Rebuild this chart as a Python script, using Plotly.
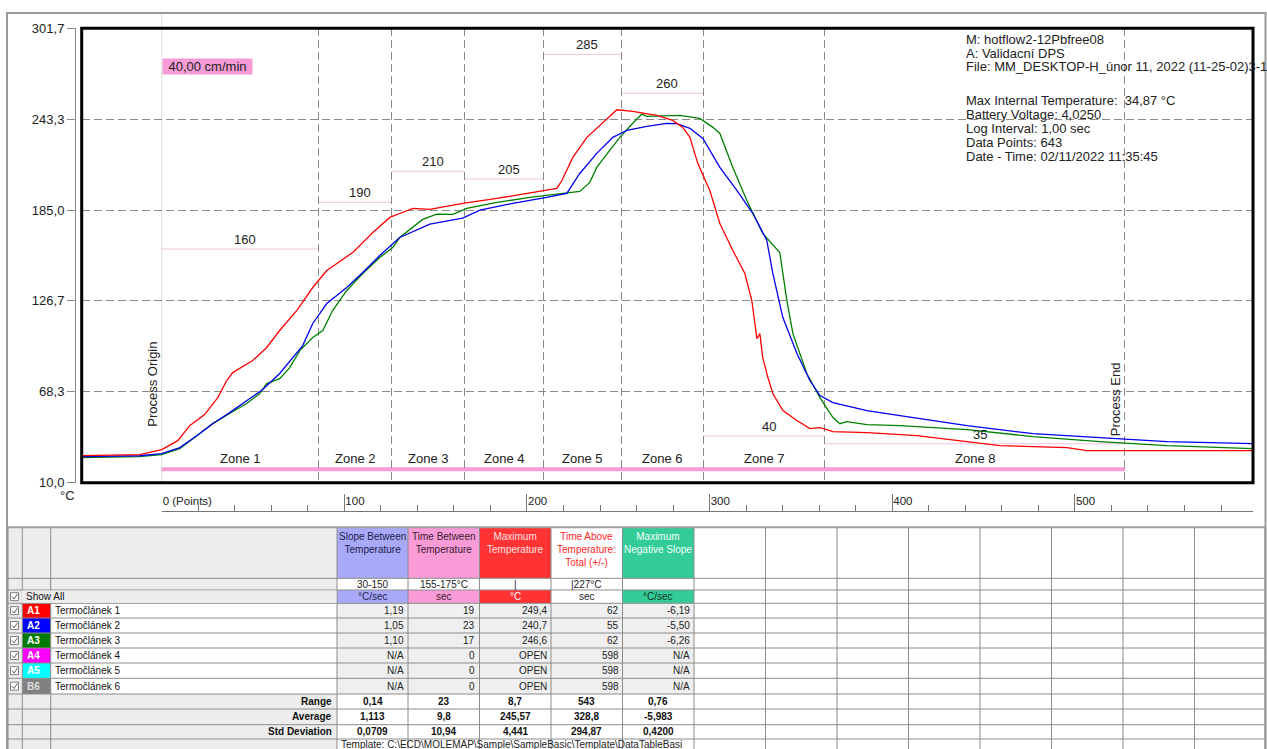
import plotly.graph_objects as go

W, H = 1267, 749
FONT = "Liberation Sans, Arial, sans-serif"

# ---------------- chart data (points vs °C) ----------------
red_points = [-43.8, -12.0, 0.0, 8.8, 15.3, 23.5, 30.7, 35.6, 38.9, 49.8, 57.5, 64.6, 73.9, 82.7,
              90.4, 104.6, 115.6, 124.9, 130.3, 137.5, 146.8, 164.8, 183.5, 207.0, 216.3, 219.1,
              225.1, 232.8, 241.5, 249.2, 257.9, 271.1, 279.8, 285.3, 289.2, 293.5, 300.1, 305.6,
              312.7, 319.3, 323.1, 325.9, 327.5, 329.1, 331.9, 334.6, 340.1, 347.8, 354.9, 360.4,
              367.5, 386.1, 413.5, 431.5, 458.9, 495.6, 506.6, 531.8, 597.5]
red_temp = [27.4, 28.0, 31.2, 37.0, 46.6, 53.7, 64.6, 75.6, 80.7, 88.4, 96.8, 107.7, 120.5, 135.3,
            146.2, 157.8, 170.6, 180.3, 182.8, 186.1, 185.4, 189.3, 192.5, 197.0, 198.9, 204.0,
            218.8, 231.7, 241.3, 249.4, 248.4, 245.8, 242.6, 238.1, 231.7, 215.0, 197.6, 176.4,
            159.1, 144.3, 126.9, 102.5, 105.7, 90.3, 77.5, 67.2, 56.3, 49.9, 44.7, 45.4,
            42.8, 42.1, 40.2, 37.6, 33.8, 32.5, 30.6, 30.6, 30.6]

blue_points = [-43.8, -12.0, 0.0, 9.9, 19.2, 27.9, 37.2, 46.5, 55.3, 64.6, 71.7, 77.2, 82.7, 90.4,
               101.3, 110.1, 119.4, 130.3, 146.8, 164.8, 174.2, 192.2, 210.8, 221.8, 228.9, 238.2,
               247.0, 254.7, 265.6, 276.6, 282.0, 289.2, 296.3, 305.6, 314.9, 323.7, 331.3, 334.6,
               340.1, 347.8, 354.9, 360.4, 367.5, 386.1, 404.2, 440.9, 477.0, 513.7, 550.4, 597.5]
blue_temp = [26.7, 27.3, 28.7, 32.5, 40.2, 47.9, 55.0, 62.7, 69.8, 80.1, 90.3, 98.0, 112.2, 125.0,
             135.3, 144.9, 155.9, 167.4, 176.0, 179.8, 185.0, 189.3, 193.1, 195.7, 208.5, 221.4,
             231.7, 236.2, 238.7, 240.7, 240.5, 237.5, 231.0, 212.4, 197.6, 182.8, 165.5, 144.3,
             116.0, 92.9, 75.6, 65.9, 61.4, 56.3, 53.1, 46.6, 41.5, 38.9, 36.4, 35.1]

green_points = [-43.8, -12.0, 0.0, 9.9, 19.2, 27.9, 37.2, 46.5, 53.7, 57.5, 64.6, 70.1, 75.6, 82.7,
                88.2, 93.6, 101.3, 110.1, 119.4, 126.5, 130.3, 142.9, 150.6, 159.4, 167.0, 183.5,
                201.5, 228.9, 234.4, 238.2, 245.3, 250.8, 257.9, 262.9, 265.6, 283.7, 294.6, 301.8,
                305.6, 312.7, 320.4, 329.1, 338.4, 342.3, 345.6, 353.2, 360.4, 367.5, 371.3, 375.1,
                386.1, 404.2, 440.9, 477.0, 513.7, 550.4, 597.5]
green_temp = [26.1, 26.7, 28.0, 31.9, 40.2, 47.9, 54.4, 60.8, 67.2, 73.6, 76.8, 83.9, 94.8, 103.2,
              107.7, 120.5, 133.4, 144.3, 154.6, 161.0, 167.4, 179.0, 182.4, 182.2, 186.1, 189.9,
              193.1, 197.0, 202.8, 212.4, 223.3, 231.7, 240.7, 246.6, 245.2, 245.8, 243.9, 238.1,
              234.2, 212.4, 191.2, 170.0, 157.8, 126.9, 105.7, 80.1, 64.6, 51.8, 47.9, 49.2,
              47.3, 46.6, 44.1, 39.6, 36.4, 33.8, 31.9]

y_tick_vals = [10.0, 68.3, 126.7, 185.0, 243.3, 301.7]
y_tick_text = ["10,0", "68,3", "126,7", "185,0", "243,3", "301,7"]
x_tick_vals = [0, 100, 200, 300, 400, 500]
x_tick_text = ["0 (Points)", "100", "200", "300", "400", "500"]

zone_edges = [0, 85.8, 125.8, 165.9, 208.8, 251.8, 296.4, 362.7, 527.4]
zone_names = ["Zone 1", "Zone 2", "Zone 3", "Zone 4", "Zone 5", "Zone 6", "Zone 7", "Zone 8"]
zone_setpoints = [160, 190, 210, 205, 285, 260, 40, 35]
conveyor_speed = "40,00 cm/min"

info_lines = ["M: hotflow2-12Pbfree08", "A: Validacní DPS",
              "File: MM_DESKTOP-H_únor 11, 2022 (11-25-02)3-1",
              "Max Internal Temperature:  34,87 °C", "Battery Voltage: 4,0250",
              "Log Interval: 1,00 sec", "Data Points: 643", "Date - Time: 02/11/2022 11:35:45"]

# ---------------- table data ----------------
stat_headers = ["Slope Between<br>Temperature", "Time Between<br>Temperature", "Maximum<br>Temperature",
                "Time Above<br>Temperature:<br>Total (+/-)", "Maximum<br>Negative Slope"]
stat_ranges = ["30-150", "155-175°C", "|", "|227°C", ""]
stat_units = ["°C/sec", "sec", "°C", "sec", "°C/sec"]
probe_ids = ["A1", "A2", "A3", "A4", "A5", "B6"]
probe_names = ["Termočlánek 1", "Termočlánek 2", "Termočlánek 3", "Termočlánek 4", "Termočlánek 5", "Termočlánek 6"]
slope_vals = ["1,19", "1,05", "1,10", "N/A", "N/A", "N/A"]
time_between_vals = ["19", "23", "17", "0", "0", "0"]
max_temp_vals = ["249,4", "240,7", "246,6", "OPEN", "OPEN", "OPEN"]
time_above_vals = ["62", "55", "62", "598", "598", "598"]
max_neg_slope_vals = ["-6,19", "-5,50", "-6,26", "N/A", "N/A", "N/A"]
summary_labels = ["Range", "Average", "Std Deviation"]
range_vals = ["0,14", "23", "8,7", "543", "0,76"]
average_vals = ["1,113", "9,8", "245,57", "328,8", "-5,983"]
std_vals = ["0,0709", "10,94", "4,441", "294,87", "0,4200"]
template_text = "Template: C:\\ECD\\MOLEMAP\\Sample\\SampleBasic\\Template\\DataTableBasi"

# ---------------- styling ----------------
probe_colors = ["#ff0000", "#0000ff", "#007a00", "#ff00ff", "#00ffff", "#808080"]
probe_text_colors = ["#ffffff", "#ffffff", "#ffffff", "#ffffff", "#ffffff", "#dddddd"]
header_fills = ["#a9a9fa", "#f99bd6", "#ff3333", "#ffffff", "#33cc99"]
header_text_colors = ["#22224a", "#3a2030", "#ffe2e2", "#ff1f1f", "#f2fff8"]
unit_text_colors = ["#22224a", "#3a2030", "#ffffff", "#222222", "#113322"]
PINK = "#f59bd6"
GRID = "#8a8a8a"
DASH = "8px,4px"


def px(x):
    return x / W


def py(y):
    return 1 - y / H


X0, X1, YT, YB = 81.7, 1253.0, 28.3, 482.7
XMIN, XMAX = -43.8, 597.5

fig = go.Figure()
fig.add_trace(go.Scatter(x=green_points, y=green_temp, mode="lines", name="Termočlánek 3",
                         line=dict(color="#008000", width=1.3), hoverinfo="skip"))
fig.add_trace(go.Scatter(x=blue_points, y=blue_temp, mode="lines", name="Termočlánek 2",
                         line=dict(color="#0000ee", width=1.3), hoverinfo="skip"))
fig.add_trace(go.Scatter(x=red_points, y=red_temp, mode="lines", name="Termočlánek 1",
                         line=dict(color="#ff0000", width=1.3), hoverinfo="skip"))
# carrier trace for the points axis
fig.add_trace(go.Scatter(x=[0], y=[0], xaxis="x2", yaxis="y3", mode="markers",
                         marker=dict(opacity=0), hoverinfo="skip", showlegend=False))

shapes = []
ann = []

# zone setpoint lines + labels, zone names
for i, name in enumerate(zone_names):
    e0, e1 = zone_edges[i], zone_edges[i + 1]
    sp = zone_setpoints[i]
    shapes.append(dict(type="line", xref="x", yref="y", x0=e0, x1=e1, y0=sp, y1=sp,
                       line=dict(color="#f0c4de", width=1), layer="below"))
    ann.append(dict(x=(e0 + e1) / 2, y=sp, xref="x", yref="y", text=str(sp), showarrow=False,
                    xanchor="center", yanchor="bottom", xshift=5,
                    font=dict(size=13, color="#222", family=FONT)))
    ann.append(dict(x=(e0 + e1) / 2, y=25.6, xref="x", yref="y", text=name, showarrow=False,
                    xanchor="center", yanchor="middle", font=dict(size=13, color="#222", family=FONT)))

# conveyor bar
shapes.append(dict(type="line", xref="x", yref="y", x0=zone_edges[0], x1=zone_edges[-1], y0=18.6, y1=18.6,
                   line=dict(color=PINK, width=4), layer="below"))
# process origin line
shapes.append(dict(type="line", xref="x", yref="paper", x0=0, x1=0, y0=py(YB), y1=py(13),
                   line=dict(color="#dddddd", width=1), layer="below"))
# outer frame
shapes.append(dict(type="rect", xref="paper", yref="paper", x0=px(7), x1=px(1265.5), y0=py(760), y1=py(13),
                   line=dict(color="#9a9a9a", width=2), layer="below"))
# plot border
shapes.append(dict(type="rect", xref="x domain", yref="y domain", x0=0, x1=1, y0=0, y1=1,
                   line=dict(color="#000000", width=3), layer="above"))

ann.append(dict(x=0, y=py(57.7), xref="x", yref="paper", text=conveyor_speed, showarrow=False,
                xanchor="left", yanchor="top", bgcolor=PINK, width=87, height=13, borderpad=1,
                font=dict(size=13, color="#222", family=FONT)))
ann.append(dict(x=0, y=73.0, xref="x", yref="y", text="Process Origin", textangle=-90, showarrow=False,
                xanchor="right", yanchor="middle", font=dict(size=13, color="#222", family=FONT)))
ann.append(dict(x=zone_edges[-1], y=63.9, xref="x", yref="y", text="Process End", textangle=-90,
                showarrow=False, xanchor="right", yanchor="middle",
                font=dict(size=13, color="#222", family=FONT)))
ann.append(dict(x=px(67.5), y=py(496), xref="paper", yref="paper", text="°C", showarrow=False,
                xanchor="center", yanchor="middle", font=dict(size=13, color="#222", family=FONT)))

info_y = [40, 53.5, 67, 100, 114, 128, 142, 156]
for s, yy in zip(info_lines, info_y):
    ann.append(dict(x=px(964), y=py(yy), xref="paper", yref="paper", text=s, showarrow=False,
                    xanchor="left", yanchor="middle", font=dict(size=13, color="#222", family=FONT)))

# ---------------- table ----------------
cols = [8, 22.3, 50.7, 337, 408, 479.5, 551, 622.5, 694, 765.5, 837, 908.5, 980, 1051.5, 1123, 1194.5, 1265]
rows = [527.3, 578.3, 590, 603.3, 618, 633, 648, 663, 678.3, 694, 709, 724.7, 739, 752]
GRAY = "#ededed"


def rect(x0, y0, x1, y1, fill, line=None):
    shapes.append(dict(type="rect", xref="paper", yref="paper", x0=px(x0), x1=px(x1), y0=py(y1), y1=py(y0),
                       fillcolor=fill, line=dict(width=0) if line is None else line, layer="above"))


def txt(x, y, s, size=10, color="#111", xanchor="center", yanchor="middle", bold=False):
    ann.append(dict(x=px(x), y=py(y), xref="paper", yref="paper", text=("<b>%s</b>" % s) if bold else s,
                    showarrow=False, xanchor=xanchor, yanchor=yanchor,
                    font=dict(size=size, color=color, family=FONT)))


rect(cols[0], rows[0], cols[3], rows[3], GRAY)
rect(cols[0], rows[9], cols[3], rows[13], GRAY)
for i in range(6):
    r0, r1 = rows[3 + i], rows[4 + i]
    rect(cols[0], r0, cols[1], r1, GRAY)
    rect(cols[1], r0, cols[2], r1, probe_colors[i])
    rect(cols[3], r0, cols[8], r1, "#efefef")
for j in range(5):
    rect(cols[3 + j], rows[0], cols[4 + j], rows[1], header_fills[j])
    rect(cols[3 + j], rows[2], cols[4 + j], rows[3], header_fills[j])
# grid lines
for r in rows[:-1]:
    shapes.append(dict(type="line", xref="paper", yref="paper", x0=px(cols[0]), x1=px(cols[-1]), y0=py(r), y1=py(r),
                       line=dict(color="#8c8c8c", width=1), layer="above"))
for c in cols:
    shapes.append(dict(type="line", xref="paper", yref="paper", x0=px(c), x1=px(c), y0=py(rows[-1]), y1=py(rows[0]),
                       line=dict(color="#8c8c8c", width=1), layer="above"))
shapes.append(dict(type="line", xref="paper", yref="paper", x0=px(cols[0]), x1=px(cols[-1]), y0=py(rows[0]),
                   y1=py(rows[0]), line=dict(color="#a0a0a0", width=2), layer="above"))
# "Show All" row spans the first columns
rect(cols[1] - 0.5, rows[2] + 0.6, cols[3] - 0.6, rows[3] - 0.6, GRAY)

# checkboxes
for k in range(7):
    r0, r1 = rows[2 + k], rows[3 + k]
    cy = (r0 + r1) / 2
    bx = 10.5
    shapes.append(dict(type="rect", xref="paper", yref="paper", x0=px(bx), x1=px(bx + 8), y0=py(cy + 4),
                       y1=py(cy - 4), fillcolor="#ffffff", line=dict(color="#808080", width=1), layer="above"))
    shapes.append(dict(type="path", xref="paper", yref="paper",
                       path="M %f,%f L %f,%f L %f,%f" % (px(bx + 1.6), py(cy), px(bx + 3.6), py(cy + 2.4),
                                                         px(bx + 7), py(cy - 2.8)),
                       line=dict(color="#606060", width=1), layer="above"))

# header texts
for j in range(5):
    cx = (cols[3 + j] + cols[4 + j]) / 2
    txt(cx, rows[0] + 1.5, stat_headers[j], color=header_text_colors[j], yanchor="top")
    txt(cx, (rows[1] + rows[2]) / 2, stat_ranges[j], color="#222")
    txt(cx, (rows[2] + rows[3]) / 2, stat_units[j], color=unit_text_colors[j])
txt(24, (rows[2] + rows[3]) / 2, "Show All", color="#111", xanchor="left")

value_cols = [slope_vals, time_between_vals, max_temp_vals, time_above_vals, max_neg_slope_vals]
for i in range(6):
    cy = (rows[3 + i] + rows[4 + i]) / 2
    txt(25, cy, probe_ids[i], color=probe_text_colors[i], xanchor="left", bold=True)
    txt(53, cy, probe_names[i], color="#111", xanchor="left")
    for j in range(5):
        txt(cols[4 + j] - 2, cy, value_cols[j][i], color="#222", xanchor="right")

summary_vals = [range_vals, average_vals, std_vals]
for k in range(3):
    cy = (rows[9 + k] + rows[10 + k]) / 2
    txt(cols[3] - 3, cy, summary_labels[k], color="#111", xanchor="right", bold=True)
    for j in range(5):
        txt((cols[3 + j] + cols[4 + j]) / 2, cy, summary_vals[k][j], color="#111", bold=True)
txt(cols[3] + 2, 744, template_text, color="#222", xanchor="left")

fig.update_layout(
    width=W, height=H, autosize=False,
    margin=dict(l=0, r=0, t=0, b=0, pad=0),
    paper_bgcolor="#ffffff", plot_bgcolor="rgba(0,0,0,0)",
    showlegend=False,
    font=dict(family=FONT, size=13, color="#222"),
    xaxis=dict(domain=[px(X0), px(X1)], range=[XMIN, XMAX], anchor="y",
               tickmode="array", tickvals=zone_edges[1:], showticklabels=False, ticks="",
               showgrid=True, gridcolor=GRID, gridwidth=1, griddash=DASH,
               zeroline=False, showline=False, automargin=False),
    yaxis=dict(domain=[py(YB), py(YT)], range=[10.0, 301.7], anchor="free", position=px(75),
               tickmode="array", tickvals=y_tick_vals, ticktext=y_tick_text,
               ticks="outside", ticklen=8, tickcolor="#888", showline=True, linecolor="#888", linewidth=1,
               showgrid=True, gridcolor=GRID, gridwidth=1, griddash=DASH,
               zeroline=False, automargin=False, tickfont=dict(size=13, color="#222", family=FONT)),
    xaxis2=dict(domain=[px(161.7), px(X1)], range=[0, XMAX], anchor="free", position=py(510.7),
                tickmode="array", tickvals=x_tick_vals, ticktext=x_tick_text,
                ticks="inside", ticklen=17, tickcolor="#777", showline=True, linecolor="#777", linewidth=1,
                ticklabelposition="inside right",
                minor=dict(ticks="inside", ticklen=6, tickcolor="#777", tickmode="linear", tick0=0, dtick=20,
                           showgrid=False),
                showgrid=False, zeroline=False, automargin=False,
                tickfont=dict(size=11.5, color="#222", family=FONT)),
    yaxis3=dict(domain=[py(512), py(490)], range=[0, 1], anchor="x2", visible=False),
    hovermode=False,
    shapes=shapes,
    annotations=ann,
)

fig.write_html("out.html", config={"displayModeBar": False, "staticPlot": True},
               post_script="document.body.style.margin='0px';document.body.style.overflow='hidden';")
